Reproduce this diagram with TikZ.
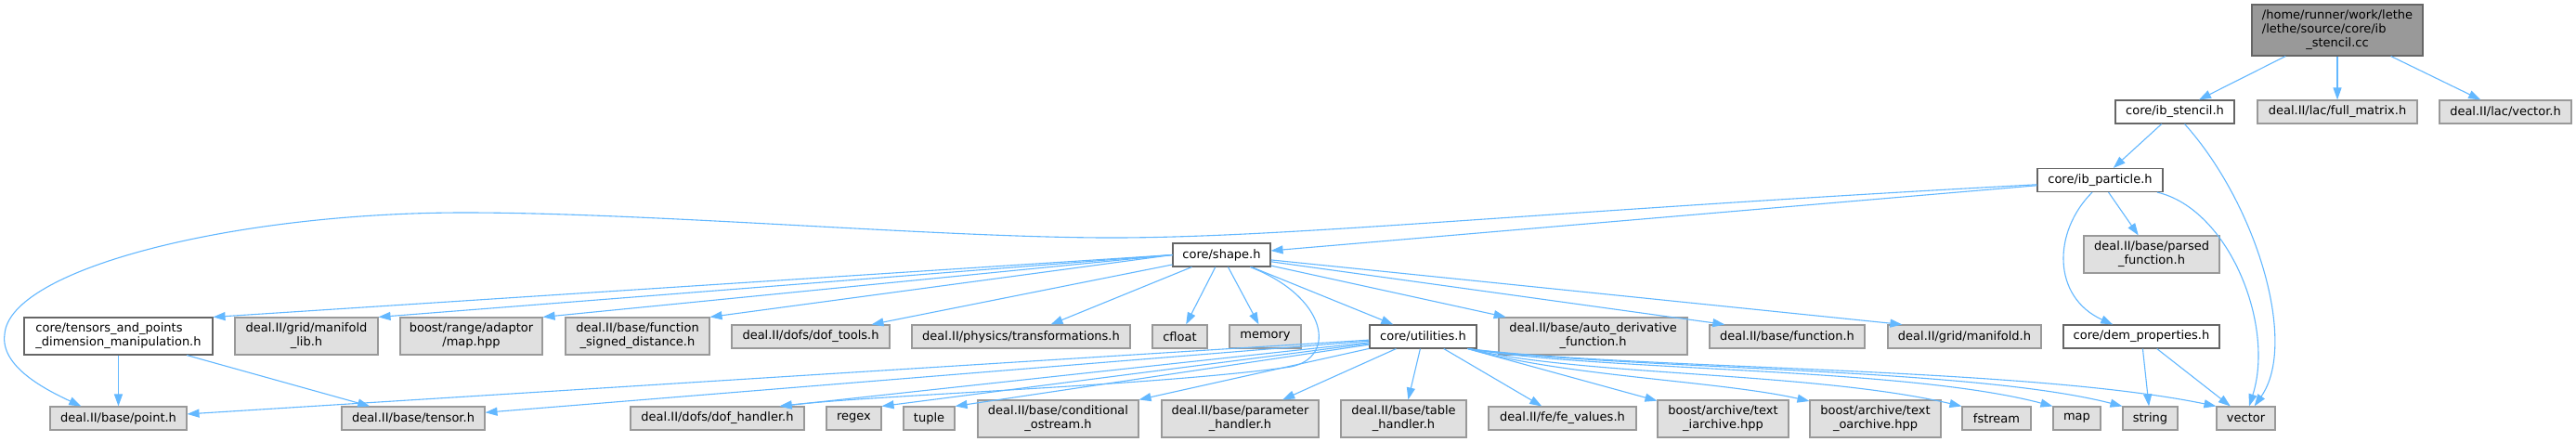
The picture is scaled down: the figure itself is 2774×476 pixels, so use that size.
\documentclass[tikz,border=0pt]{standalone}
\usepackage{fontspec}
\setmainfont{DejaVu Sans}
\usetikzlibrary{arrows.meta}
\usepackage{xcolor}
\definecolor{edgeblue}{HTML}{63B8FF}
\definecolor{sysfill}{HTML}{E0E0E0}
\definecolor{sysdraw}{HTML}{999999}
\definecolor{locdraw}{HTML}{666666}
\definecolor{rootfill}{HTML}{999999}
\newcommand{\twolines}[2]{\begin{tabular}{@{}l@{}}#1\\\multicolumn{1}{@{}c@{}}{#2}\end{tabular}}

\begin{document}
\begin{tikzpicture}[x=1pt, y=-1pt,
  box/.style={rectangle, inner sep=0pt, minimum height=25pt, line width=1.1pt,
    font=\fontsize{13}{14.7}\selectfont},
  sys/.style={box, fill=sysfill, draw=sysdraw},
  loc/.style={box, fill=white, draw=locdraw},
  top/.style={box, fill=rootfill, draw=locdraw},
  tall/.style={minimum height=40pt},
  dep/.style={draw=edgeblue, line width=1.1pt, -{Triangle[length=13pt,width=9pt]}}]
  \fill[white] (0,0) rectangle (2774,476);
  \useasboundingbox (0,0) rectangle (2774,476);

  \node[top, minimum width=184pt, minimum height=55pt] (src) at (2517,32.5)
    {\begin{tabular}{@{}l@{}}/home/runner/work/lethe\\/lethe/source/core/ib\\\multicolumn{1}{@{}c@{}}{\_stencil.cc}\end{tabular}};
  \node[loc, minimum width=128pt] (stencil) at (2342,120.5) {core/ib\_stencil.h};
  \node[sys, minimum width=172pt] (fullmatrix) at (2517,120.5) {deal.II/lac/full\_matrix.h};
  \node[sys, minimum width=142pt] (lacvector) at (2698,120.5) {deal.II/lac/vector.h};
  \node[loc, minimum width=135pt] (particle) at (2261.5,194) {core/ib\_particle.h};
  \node[loc, minimum width=105pt] (shape) at (1315.5,274.5) {core/shape.h};
  \node[sys, tall, minimum width=146pt] (parsed) at (2317,274) {\twolines{deal.II/base/parsed}{\_function.h}};

  \node[loc, tall, minimum width=203pt] (tensorspts) at (127.5,362) {\twolines{core/tensors\_and\_points}{\_dimension\_manipulation.h}};
  \node[sys, tall, minimum width=154pt] (manifoldlib) at (330,362) {\twolines{deal.II/grid/manifold}{\_lib.h}};
  \node[sys, tall, minimum width=153pt] (rangemap) at (507.5,362) {\twolines{boost/range/adaptor}{/map.hpp}};
  \node[sys, tall, minimum width=155pt] (signeddist) at (686.5,362) {\twolines{deal.II/base/function}{\_signed\_distance.h}};
  \node[sys, minimum width=170pt] (doftools) at (873,362.5) {deal.II/dofs/dof\_tools.h};
  \node[sys, minimum width=235pt] (transform) at (1099.5,362.5) {deal.II/physics/transformations.h};
  \node[sys, minimum width=59pt] (cfloat) at (1270.5,362.5) {cfloat};
  \node[sys, minimum width=77pt] (memory) at (1362.5,362.5) {memory};
  \node[loc, minimum width=115pt] (utilities) at (1532.5,362.5) {core/utilities.h};
  \node[sys, tall, minimum width=203pt] (autoderiv) at (1715.5,362) {\twolines{deal.II/base/auto\_derivative}{\_function.h}};
  \node[sys, minimum width=167pt] (basefunc) at (1924.5,362.5) {deal.II/base/function.h};
  \node[sys, minimum width=165pt] (gridmanifold) at (2115.5,362.5) {deal.II/grid/manifold.h};
  \node[loc, minimum width=168pt] (demprops) at (2306,362.5) {core/dem\_properties.h};

  \node[sys, minimum width=147pt] (point) at (127.5,450.5) {deal.II/base/point.h};
  \node[sys, minimum width=154pt] (tensor) at (445,450.5) {deal.II/base/tensor.h};
  \node[sys, minimum width=187pt] (dofhandler) at (772.5,450.5) {deal.II/dofs/dof\_handler.h};
  \node[sys, minimum width=59pt] (regex) at (919.5,450.5) {regex};
  \node[sys, minimum width=55pt] (tuple) at (1000.5,450.5) {tuple};
  \node[sys, tall, minimum width=173pt] (condostream) at (1139.5,451) {\twolines{deal.II/base/conditional}{\_ostream.h}};
  \node[sys, tall, minimum width=169pt] (paramhandler) at (1335.5,451) {\twolines{deal.II/base/parameter}{\_handler.h}};
  \node[sys, tall, minimum width=135pt] (tablehandler) at (1511.5,451) {\twolines{deal.II/base/table}{\_handler.h}};
  \node[sys, minimum width=159pt] (fevalues) at (1682.5,450.5) {deal.II/fe/fe\_values.h};
  \node[sys, tall, minimum width=141pt] (textiarch) at (1855.5,451) {\twolines{boost/archive/text}{\_iarchive.hpp}};
  \node[sys, tall, minimum width=141pt] (textoarch) at (2019.5,451) {\twolines{boost/archive/text}{\_oarchive.hpp}};
  \node[sys, minimum width=74pt] (fstream) at (2150,450.5) {fstream};
  \node[sys, minimum width=51pt] (map) at (2236.5,450.5) {map};
  \node[sys, minimum width=59pt] (string) at (2315.5,450.5) {string};
  \node[sys, minimum width=63pt] (vector) at (2418.5,450.5) {vector};

  \foreach \t in {stencil,fullmatrix,lacvector} {
    \draw[dep] (src) -- (\t);
  }
  \draw[dep] (stencil) -- (particle);
  \draw[dep] (stencil.-51) .. controls (2430,220) and (2475,370) .. (vector.55);

  \draw[dep] (particle) -- (shape);
  \draw[dep] (particle) -- (parsed);
  \draw[dep] (particle.-123) .. controls (2210,250) and (2210,320) .. (demprops.157);
  \draw[dep] (particle.-12) .. controls (2400,225) and (2450,350) .. (vector.75);
  \draw[dep] (particle.184) .. controls (1650,228) and (1380,257) .. (1187,256)
    .. controls (1000,255) and (700,229) .. (500,229)
    .. controls (250,229) and (10,290) .. (5,360)
    .. controls (0,395) and (50,420) .. (point.162);

  \foreach \t in {tensorspts,manifoldlib,rangemap,signeddist} {
    \draw[dep] (shape.west) -- (\t.north east);
  }
  \foreach \t in {doftools,transform,cfloat,memory,utilities,autoderiv} {
    \draw[dep] (shape) -- (\t);
  }
  \draw[dep] (shape) -- (basefunc.169);
  \draw[dep] (shape) -- (gridmanifold.169);
  \draw[dep] (shape.-23) .. controls (1430,320) and (1440,385) .. (1390,395)
    .. controls (1250,415) and (950,425) .. (dofhandler.11);

  \draw[dep] (tensorspts) -- (point);
  \draw[dep] (tensorspts) -- (tensor);

  \foreach \t in {point,tensor,paramhandler,tablehandler,fevalues,textiarch} {
    \draw[dep] (utilities) -- (\t);
  }
  \draw[dep] (utilities) -- (dofhandler.11);
  \foreach \t in {regex,tuple,condostream} {
    \draw[dep] (utilities) -- (\t.north east);
  }
  \draw[dep] (utilities.-15) .. controls (1680,405) and (1850,410) .. (textoarch.165);
  \draw[dep] (utilities.-15) .. controls (1700,405) and (1950,400) .. (fstream.north west);
  \draw[dep] (utilities.-15) .. controls (1720,400) and (2050,395) .. (map.north west);
  \draw[dep] (utilities.-15) .. controls (1740,398) and (2120,395) .. (string.north west);
  \draw[dep] (utilities.-15) .. controls (1760,398) and (2180,395) .. (vector.north west);

  \draw[dep] (demprops) -- (string);
  \draw[dep] (demprops) -- (vector);
\end{tikzpicture}
\end{document}
